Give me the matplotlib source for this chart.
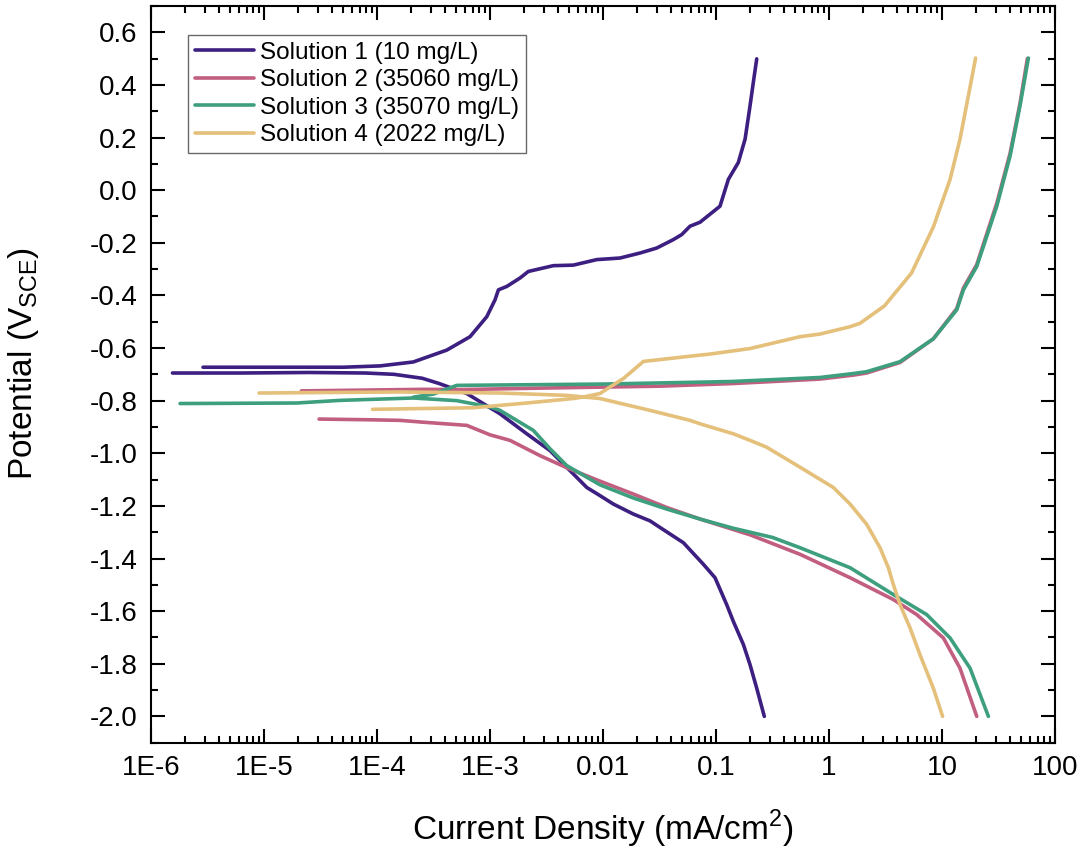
import numpy as np
import matplotlib
matplotlib.use('Agg')
import matplotlib.pyplot as plt
from matplotlib.ticker import LogLocator, MultipleLocator, FuncFormatter

plt.rcParams['font.family'] = ['Liberation Sans', 'DejaVu Sans']
plt.rcParams['mathtext.fontset'] = 'custom'
plt.rcParams['mathtext.rm'] = 'Liberation Sans'
plt.rcParams['axes.unicode_minus'] = False

# Datos: log10 de la densidad de corriente (mA/cm2) y potencial (V_SCE)
labels = ['Solution 1 (10 mg/L)', 'Solution 2 (35060 mg/L)',
          'Solution 3 (35070 mg/L)', 'Solution 4 (2022 mg/L)']
colors = ['#3C1F80', '#C25E80', '#3E9F7F', '#E4C07B']

# Solucion 1
s1_cat_logi = [-0.573, -0.64, -0.699, -0.758, -0.847, -0.906, -1.009, -1.112, -1.289, -1.496,
               -1.584, -1.732, -1.909, -2.027, -2.144, -2.292, -2.469, -2.675, -2.912, -3.206,
               -3.45, -3.6, -3.85, -4.1, -4.6, -5.2, -5.81]
s1_cat_v = [-2.0, -1.893, -1.804, -1.727, -1.639, -1.575, -1.473, -1.422, -1.34, -1.282,
            -1.257, -1.231, -1.193, -1.161, -1.13, -1.066, -0.99, -0.926, -0.85, -0.773,
            -0.735, -0.715, -0.70, -0.695, -0.693, -0.695, -0.695]
s1_an_logi = [-5.54, -4.3, -3.973, -3.679, -3.383, -3.177, -3.029, -2.956, -2.926, -2.852,
              -2.735, -2.661, -2.44, -2.263, -2.056, -1.85, -1.673, -1.525, -1.378, -1.304,
              -1.23, -1.142, -0.965, -0.891, -0.803, -0.743, -0.699, -0.67, -0.64]
s1_an_v = [-0.673, -0.673, -0.668, -0.653, -0.608, -0.557, -0.481, -0.417, -0.379, -0.366,
           -0.334, -0.309, -0.287, -0.285, -0.264, -0.258, -0.239, -0.220, -0.188, -0.169,
           -0.137, -0.122, -0.061, 0.041, 0.105, 0.194, 0.321, 0.41, 0.499]

# Solucion 2
s2_cat_logi = [1.307, 1.159, 1.012, 0.776, 0.569, 0.186, -0.257, -0.699, -0.847, -1.142,
               -1.437, -1.732, -2.027, -2.321, -2.558, -2.823, -3.0, -3.206, -3.59, -3.796,
               -4.03, -4.513]
s2_cat_v = [-2.0, -1.817, -1.702, -1.613, -1.556, -1.473, -1.384, -1.31, -1.29, -1.25,
            -1.206, -1.155, -1.106, -1.055, -1.009, -0.951, -0.93, -0.894, -0.882, -0.875,
            -0.873, -0.87]
s2_an_logi = [-4.67, -3.59, -3.265, -2.5, -1.496, -0.847, -0.08, 0.215, 0.333, 0.628,
              0.923, 1.13, 1.189, 1.307, 1.366, 1.484, 1.602, 1.69, 1.755]
s2_an_v = [-0.763, -0.757, -0.758, -0.752, -0.745, -0.735, -0.718, -0.703, -0.695, -0.655,
           -0.565, -0.45, -0.372, -0.283, -0.205, -0.05, 0.14, 0.33, 0.5]

# Solucion 3
s3_cat_logi = [1.41, 1.248, 1.071, 0.864, 0.569, 0.186, -0.257, -0.5, -0.847, -1.142,
               -1.437, -1.732, -2.027, -2.321, -2.469, -2.617, -2.912, -3.0, -3.295, -3.679,
               -4.327, -4.71, -5.743]
s3_cat_v = [-2.0, -1.817, -1.702, -1.613, -1.537, -1.435, -1.359, -1.32, -1.285, -1.25,
            -1.212, -1.17, -1.12, -1.047, -0.983, -0.913, -0.837, -0.824, -0.80, -0.79,
            -0.799, -0.809, -0.811]
s3_an_logi = [-3.68, -3.5, -3.295, -2.0, -1.053, -0.847, -0.08, 0.215, 0.333, 0.628,
              0.923, 1.13, 1.189, 1.307, 1.366, 1.484, 1.602, 1.69, 1.764]
s3_an_v = [-0.787, -0.775, -0.742, -0.737, -0.729, -0.727, -0.712, -0.697, -0.69, -0.652,
           -0.565, -0.455, -0.379, -0.29, -0.214, -0.061, 0.13, 0.321, 0.502]

# Solucion 4
s4_cat_logi = [1.005, 0.923, 0.805, 0.717, 0.628, 0.569, 0.525, 0.451, 0.333, 0.186,
               0.038, -0.257, -0.552, -0.699, -0.847, -1.142, -1.23, -1.584, -2.027, -2.321,
               -2.912, -3.796, -5.044]
s4_cat_v = [-2.0, -1.893, -1.766, -1.664, -1.575, -1.499, -1.435, -1.359, -1.27, -1.193,
            -1.13, -1.053, -0.977, -0.951, -0.926, -0.888, -0.875, -0.837, -0.792, -0.78,
            -0.771, -0.767, -0.771]
s4_an_logi = [-4.04, -3.147, -2.675, -2.263, -2.174, -2.027, -1.938, -1.82, -1.732, -1.643,
              -1.142, -1.053, -0.699, -0.257, -0.08, 0.186, 0.274, 0.49, 0.73, 0.923,
              1.071, 1.159, 1.233, 1.297]
s4_an_v = [-0.833, -0.827, -0.809, -0.792, -0.786, -0.773, -0.748, -0.716, -0.684, -0.651,
           -0.627, -0.623, -0.602, -0.557, -0.547, -0.519, -0.506, -0.44, -0.315, -0.14,
           0.041, 0.194, 0.359, 0.502]

series = [
    (s1_cat_logi, s1_cat_v, s1_an_logi, s1_an_v),
    (s2_cat_logi, s2_cat_v, s2_an_logi, s2_an_v),
    (s3_cat_logi, s3_cat_v, s3_an_logi, s3_an_v),
    (s4_cat_logi, s4_cat_v, s4_an_logi, s4_an_v),
]

xtick_vals = [1e-6, 1e-5, 1e-4, 1e-3, 1e-2, 1e-1, 1, 10, 100]
xtick_labels = ['1E-6', '1E-5', '1E-4', '1E-3', '0.01', '0.1', '1', '10', '100']
ytick_vals = [-2.0, -1.8, -1.6, -1.4, -1.2, -1.0, -0.8, -0.6, -0.4, -0.2, 0.0, 0.2, 0.4, 0.6]
ytick_labels = ['-2.0', '-1.8', '-1.6', '-1.4', '-1.2', '-1.0', '-0.8', '-0.6', '-0.4',
                '-0.2', '0.0', '0.2', '0.4', '0.6']

fig = plt.figure(figsize=(10.85, 8.52), dpi=100)
ax = fig.add_axes([0.1392, 0.1283, 0.8332, 0.8647])

for (cl, cv, al, av), lab, col in zip(series, labels, colors):
    ax.plot(10 ** np.array(cl), cv, color=col, lw=2.6, label=lab, solid_capstyle='round')
    ax.plot(10 ** np.array(al), av, color=col, lw=2.6, solid_capstyle='round')

ax.set_xscale('log')
ax.set_xlim(1e-6, 100)
ax.set_ylim(-2.1, 0.7)

ax.set_xticks(xtick_vals)
ax.set_xticklabels(xtick_labels)
ax.xaxis.set_minor_locator(LogLocator(base=10, subs=np.arange(2, 10), numticks=20))
ax.xaxis.set_minor_formatter(FuncFormatter(lambda v, p: ''))

ax.set_yticks(ytick_vals)
ax.set_yticklabels(ytick_labels)
ax.yaxis.set_minor_locator(MultipleLocator(0.1))

ax.tick_params(which='both', direction='in', top=True, right=True, width=1.5)
ax.tick_params(which='major', length=10, labelsize=20)
ax.tick_params(axis='x', which='major', pad=9)
ax.tick_params(axis='y', which='major', pad=10)
ax.tick_params(which='minor', length=5)
for sp in ax.spines.values():
    sp.set_linewidth(1.5)

ax.set_xlabel('Current Density (mA/cm$^2$)', fontsize=24)
ax.set_ylabel('Potential (V$_{\\mathrm{SCE}}$)', fontsize=24)
ax.xaxis.set_label_coords(0.5, -0.089)
ax.yaxis.set_label_coords(-0.122, 0.514)

leg = ax.legend(loc='upper left', bbox_to_anchor=(0.041, 0.961), fontsize=17.5,
                frameon=True, fancybox=False, edgecolor='#444444', handlelength=2.4,
                labelspacing=0.22, borderpad=0.3, handletextpad=0.25, borderaxespad=0)
leg.get_frame().set_linewidth(1.0)

plt.savefig('out.png', dpi=100)
